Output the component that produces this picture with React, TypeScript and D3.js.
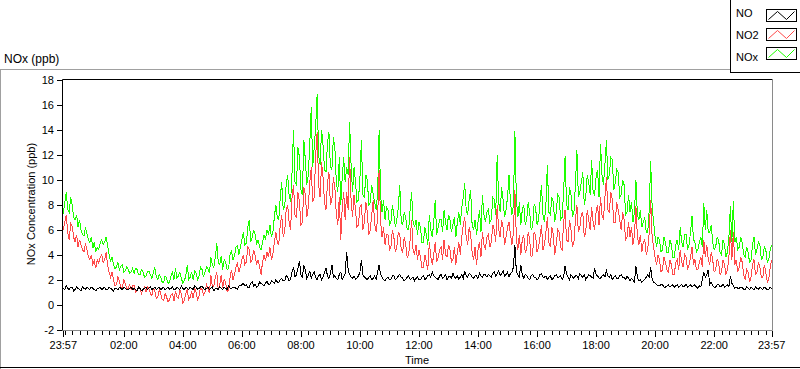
import React from "react";
import * as d3 from "d3";

// Samples. *_A: every 6 min from 23:57; *_B: the readings 3 min after each A sample.
const NO_A = [
  1.3,1.5,1.2,1.4,1.2,1.3,1.1,1.3,1.4,1.2,1.3,1.1,
  1.3,1.2,1.4,1.2,1.3,1.1,1.3,1.4,1.2,1.3,1.2,1.4,
  1.3,1.1,1.3,1.2,1.4,1.3,1.2,1.4,1.3,1.2,1.4,1.3,
  1.2,1.4,1.2,1.3,1.5,1.2,1.3,1.4,1.2,1.4,1.3,1.5,
  1.2,1.4,1.3,1.1,1.3,1.4,1.2,1.3,1.5,1.3,1.4,1.2,
  1.5,1.7,1.6,1.4,1.8,1.6,1.5,1.7,1.5,1.9,1.6,1.8,
  2.0,1.8,2.1,1.9,2.2,2.0,3.0,2.4,3.5,2.2,2.8,2.3,
  2.1,2.6,2.0,2.4,2.2,2.9,2.1,3.2,2.3,2.0,2.6,2.2,
  4.2,2.4,2.1,2.0,2.3,3.6,2.2,2.0,2.3,2.1,2.0,3.2,
  2.2,1.9,2.2,2.0,2.3,2.1,2.4,2.1,2.0,2.3,2.1,1.9,
  2.2,2.0,2.3,2.1,2.4,2.6,2.2,2.0,2.4,2.2,2.0,2.3,
  2.5,2.1,2.0,2.4,2.7,2.2,2.4,2.1,2.3,2.5,2.2,2.4,
  2.4,2.2,2.6,2.5,2.3,2.7,2.4,2.2,2.6,4.8,2.4,3.2,
  2.1,2.3,2.0,2.4,2.2,2.1,2.5,2.2,2.0,2.3,2.1,2.4,
  2.2,2.0,3.1,2.2,2.4,2.1,2.3,2.5,2.2,2.0,2.4,2.2,
  2.9,2.3,2.1,2.4,2.7,2.2,2.0,2.3,2.1,2.4,2.2,2.3,
  1.9,2.0,3.1,1.9,1.8,2.0,2.4,3.0,1.8,1.6,1.5,1.6,
  1.4,1.6,1.5,1.4,1.6,1.5,1.4,1.6,1.5,1.4,1.6,1.3,
  1.4,2.6,2.4,1.6,1.5,1.4,1.6,1.5,1.4,1.6,2.3,1.5,
  1.4,1.3,1.4,1.2,1.3,1.4,1.2,1.3,1.4,1.2,1.3,1.2,
  1.3,
];
const NO_B = [
  1.2,1.3,1.4,1.1,1.4,1.2,1.4,1.2,1.3,1.4,1.2,1.3,
  1.4,1.3,1.2,1.4,1.2,1.3,1.2,1.3,1.4,1.2,1.3,1.2,
  1.2,1.4,1.1,1.3,1.2,1.4,1.3,1.2,1.4,1.3,1.2,1.4,
  1.3,1.2,1.4,1.2,1.3,1.4,1.2,1.3,1.5,1.2,1.4,1.3,
  1.3,1.2,1.4,1.3,1.2,1.3,1.4,1.2,1.3,1.4,1.3,1.5,
  1.6,1.5,1.4,1.7,1.5,1.4,1.8,1.6,1.7,1.6,1.9,1.7,
  1.8,2.0,1.9,2.3,1.9,2.6,2.2,2.9,2.4,3.1,2.1,2.7,
  2.4,2.2,2.3,2.0,2.6,2.3,2.5,2.2,2.1,2.4,2.0,2.5,
  2.8,2.2,2.3,2.1,2.6,2.4,2.1,2.2,2.0,2.3,2.6,2.4,
  2.0,2.1,2.0,2.3,2.0,2.3,2.2,1.9,2.2,2.0,2.2,2.1,
  2.0,2.2,2.0,2.3,2.2,2.3,2.1,2.3,2.1,2.4,2.2,2.1,
  2.2,2.3,2.2,2.1,2.3,2.5,2.2,2.3,2.1,2.3,2.4,2.2,
  2.3,2.5,2.3,2.7,2.5,2.3,2.6,2.5,3.0,2.6,2.2,2.4,
  2.4,2.1,2.3,2.2,2.0,2.4,2.2,2.3,2.2,2.0,2.3,2.2,
  2.3,2.2,2.4,2.0,2.2,2.3,2.1,2.3,2.4,2.2,2.3,2.1,
  2.4,2.1,2.3,2.2,2.3,2.4,2.2,2.1,2.3,2.2,2.0,2.1,
  2.1,1.8,2.2,2.0,1.9,2.2,2.2,2.0,1.7,1.5,1.6,1.4,
  1.5,1.4,1.6,1.5,1.4,1.6,1.5,1.4,1.6,1.5,1.4,1.5,
  2.0,2.2,2.8,1.8,1.4,1.6,1.4,1.6,1.5,1.4,1.7,1.3,
  1.3,1.4,1.2,1.4,1.2,1.3,1.4,1.2,1.3,1.4,1.2,1.4,
];

const NO2_A = [
  6.0,7.2,5.2,6.3,5.0,4.6,4.8,4.2,4.4,3.6,3.2,2.9,
  3.3,4.0,3.6,3.2,2.2,2.0,1.6,1.9,1.4,1.7,1.3,1.2,
  1.5,1.1,1.3,1.2,1.0,1.3,0.7,1.1,0.6,0.9,0.3,0.6,
  0.4,0.9,1.1,0.5,0.8,0.3,1.2,0.6,0.5,1.0,0.7,1.2,
  1.0,1.3,2.4,1.5,2.6,1.6,1.3,1.8,1.2,2.8,2.4,3.3,
  3.0,4.0,3.4,4.4,3.6,3.9,3.6,2.4,4.0,4.2,4.6,4.0,
  5.8,4.8,7.2,5.8,8.0,6.0,9.6,7.0,8.2,6.6,8.8,7.8,
  11.0,8.6,13.8,8.6,10.2,7.6,10.6,8.4,9.4,6.4,5.2,9.0,
  9.0,11.8,7.0,7.6,6.4,8.0,6.6,7.4,6.0,8.4,5.8,10.8,
  5.4,4.8,5.6,4.6,5.4,4.6,5.6,4.2,4.8,4.0,6.8,4.0,
  3.6,3.8,3.0,3.4,5.0,3.2,5.0,3.8,4.6,5.2,3.8,4.4,
  3.6,3.2,5.0,5.4,7.0,4.8,5.6,3.6,3.2,5.0,5.8,4.4,
  5.6,5.0,6.0,8.0,5.4,6.2,5.4,6.6,4.8,9.2,4.4,4.0,
  5.6,4.4,5.2,4.0,5.6,4.6,6.4,4.8,7.0,4.6,5.6,4.8,
  5.8,4.4,7.6,5.0,6.0,5.0,8.0,6.2,7.4,5.8,6.8,7.8,
  6.0,8.0,8.6,6.8,10.2,7.4,8.4,6.6,7.6,6.0,6.8,5.4,
  5.4,4.8,7.9,4.8,4.2,5.2,4.4,8.4,4.6,3.2,3.6,2.8,
  3.4,2.6,3.2,2.4,3.6,4.4,3.0,3.8,3.2,4.6,3.6,2.8,
  3.8,5.2,4.8,3.2,3.6,2.8,3.4,2.6,3.2,2.8,6.0,5.8,
  3.6,3.0,3.4,2.0,2.6,2.2,3.6,2.6,3.0,2.2,2.6,2.0,
  3.6,
];
const NO2_B = [
  6.6,5.8,6.5,5.4,5.6,5.2,4.4,4.9,3.8,4.0,3.5,3.6,
  3.8,3.4,4.2,2.6,2.6,1.5,2.2,1.3,2.0,1.2,1.6,1.5,
  1.0,1.4,0.9,1.4,1.4,0.9,1.3,0.5,1.2,0.4,0.9,0.2,
  0.8,0.3,0.6,1.2,0.1,0.9,0.4,1.0,1.3,0.4,1.4,0.8,
  1.6,0.9,1.4,2.2,1.2,2.4,2.0,1.0,2.2,2.0,3.0,2.6,
  3.6,3.2,4.6,3.4,4.4,3.2,3.0,3.4,3.5,3.8,3.6,5.0,
  5.0,6.4,5.4,7.6,6.6,8.6,7.2,9.0,6.4,9.4,7.0,9.8,
  8.2,12.0,9.6,11.4,8.2,9.8,8.0,10.2,7.2,8.6,7.8,6.8,
  7.6,8.4,8.8,6.2,7.8,6.0,8.2,5.6,7.2,6.4,7.0,6.6,
  6.2,5.6,4.4,6.0,4.2,5.8,4.4,5.4,3.8,5.2,4.4,4.8,
  4.4,3.0,4.0,2.8,3.8,4.0,3.4,4.4,3.6,4.0,4.8,3.4,
  4.6,4.2,4.0,6.4,5.4,6.2,4.2,4.6,4.4,3.8,4.8,5.4,
  4.6,6.4,5.0,6.0,6.8,4.8,6.2,5.6,5.8,5.2,5.6,5.2,
  4.2,5.8,3.8,5.8,4.2,5.4,4.4,5.8,5.0,6.2,4.0,6.0,
  4.6,6.6,5.2,6.8,4.6,6.8,5.8,7.2,5.4,7.6,6.0,6.6,
  7.4,6.4,7.2,8.6,7.6,9.0,6.6,8.2,6.8,7.4,5.2,6.6,
  6.2,5.6,5.4,5.6,5.0,4.0,5.8,5.4,3.8,4.0,2.6,3.8,
  2.8,3.6,2.4,3.4,2.8,3.4,4.0,2.8,3.8,3.2,2.8,3.4,
  3.0,3.8,3.6,4.2,2.6,3.6,2.4,3.6,2.4,3.8,3.6,3.2,
  2.6,3.8,2.4,2.8,1.8,3.2,2.4,3.4,2.2,3.2,1.8,3.0,
];

const NOX_A = [
  7.3,9.0,7.4,8.0,6.8,6.2,6.0,5.5,5.7,5.0,4.5,4.2,
  4.4,5.2,5.0,4.8,3.5,3.2,3.0,2.8,3.2,2.7,2.8,2.6,
  2.5,2.8,2.4,2.6,2.3,2.7,2.1,3.0,2.0,2.2,1.8,2.1,
  1.8,2.6,2.9,2.3,2.1,1.9,3.2,2.2,2.0,2.5,2.3,2.8,
  2.6,2.9,3.8,3.0,4.9,3.2,2.8,3.4,2.9,4.3,3.9,4.7,
  4.6,5.8,4.9,6.8,5.4,5.6,5.2,4.4,5.6,6.0,6.4,5.8,
  8.0,6.8,9.8,7.8,10.4,8.2,14.0,9.6,11.8,8.8,11.6,10.4,
  15.8,12.6,16.9,11.2,12.8,10.6,13.8,10.8,12.6,9.0,8.0,11.8,
  11.0,14.6,9.0,9.8,8.4,13.2,8.6,10.0,8.2,8.8,7.6,14.0,
  7.4,6.8,7.6,6.6,7.2,6.8,9.6,6.4,7.0,6.0,9.0,6.2,
  5.6,6.2,5.0,5.6,7.2,5.4,8.4,6.2,6.8,7.6,6.0,6.8,
  6.4,5.4,7.4,7.8,9.7,7.2,9.2,6.0,5.6,7.6,8.8,6.6,
  7.6,6.8,8.4,12.0,7.4,8.4,7.6,10.4,7.2,13.9,7.0,6.4,
  8.0,6.8,7.4,6.2,7.8,6.8,9.6,6.6,11.2,7.2,8.2,7.4,
  8.6,7.0,11.9,7.6,8.8,7.4,12.4,9.0,10.6,8.6,9.8,11.6,
  8.8,10.8,12.9,9.6,13.2,10.4,11.6,9.8,10.6,8.8,9.6,7.4,
  7.4,6.6,10.0,6.8,6.2,7.0,5.8,11.5,6.6,4.6,5.2,4.4,
  5.0,4.2,4.8,3.8,5.2,6.2,4.6,5.6,4.8,7.1,5.0,4.4,
  5.4,8.1,7.6,5.8,5.0,4.6,5.2,4.0,4.8,4.2,7.9,8.3,
  5.4,4.6,5.0,3.8,4.2,3.6,5.4,4.4,4.8,3.8,4.4,3.6,
  4.8,
];
const NOX_B = [
  8.2,7.6,8.6,7.0,7.2,6.8,5.6,6.2,5.2,5.4,5.0,4.6,
  4.9,4.8,5.4,4.0,3.8,2.9,3.4,3.1,2.6,3.0,2.5,2.9,
  2.9,2.4,2.8,2.2,2.6,2.4,2.5,2.2,2.4,1.8,2.3,1.7,
  2.3,2.0,2.1,2.6,1.7,2.3,2.0,2.6,2.7,2.0,3.0,2.2,
  3.0,2.5,3.2,3.8,3.4,3.9,3.6,2.8,4.0,3.6,4.6,4.0,
  5.2,4.8,6.2,5.0,6.0,4.8,4.6,5.0,5.2,5.6,5.4,7.0,
  7.0,8.6,7.6,9.6,8.8,10.6,9.8,12.6,9.2,13.2,9.6,12.8,
  11.0,14.2,12.0,14.0,10.8,13.0,11.0,13.4,9.8,11.8,10.2,9.8,
  10.4,11.2,11.0,8.2,10.2,8.8,10.4,8.0,9.6,8.2,9.0,8.8,
  8.4,7.8,6.4,8.0,6.2,7.8,6.6,7.4,6.0,7.6,6.6,6.8,
  6.6,5.0,6.2,4.8,6.0,6.6,5.6,6.8,5.8,6.6,7.2,5.8,
  7.0,6.6,6.4,8.6,7.6,8.4,6.4,6.8,6.6,5.8,7.2,7.4,
  6.6,8.6,7.2,8.2,9.4,7.0,8.6,8.2,8.0,8.4,8.2,7.6,
  6.4,8.2,6.0,8.0,6.4,8.2,7.2,8.0,7.4,8.6,6.6,8.8,
  6.8,9.0,8.0,9.4,7.0,9.6,8.6,9.8,8.0,10.4,8.8,9.0,
  10.2,8.6,10.4,11.2,10.0,11.8,9.2,10.8,8.6,10.0,7.2,8.8,
  8.2,7.4,7.2,7.6,6.6,5.8,7.6,7.8,5.4,5.4,4.2,5.4,
  4.2,5.2,3.8,4.8,4.4,5.0,5.6,4.4,5.8,5.2,4.2,5.0,
  4.6,6.0,5.8,6.4,4.4,5.4,4.2,5.2,3.8,5.4,5.0,5.0,
  4.4,5.4,4.0,4.6,3.4,4.8,4.0,5.0,3.6,4.6,3.4,4.4,
];

const SERIES_NAMES = ["NO", "NO2", "NOx"];
const SERIES_COLORS = ["#000000", "#ff4a4a", "#1eff00"];
const Y_TICKS = [-2, 0, 2, 4, 6, 8, 10, 12, 14, 16, 18];
const START = new Date(2021, 0, 1, 23, 57);
const END = new Date(2021, 0, 2, 23, 57);
const STEP_MINUTES = 3;

const FONT = "Liberation Sans, Arial, sans-serif";

function merge(a: number[], b: number[]): number[] {
  const out: number[] = [];
  a.forEach((v, i) => {
    out.push(v);
    if (i < b.length) out.push(b[i]);
  });
  return out;
}

export default function App() {
  const W = 800;
  const H = 369;
  const left = 63.3;
  const right = 771.7;
  const top = 80;
  const bottom = 329.5;

  const x = d3.scaleTime().domain([START, END]).range([left, right]);
  const y = d3.scaleLinear().domain([-2, 18]).range([bottom, top]);

  const seriesData = [merge(NO_A, NO_B), merge(NO2_A, NO2_B), merge(NOX_A, NOX_B)];
  const times = seriesData[0].map((_, i) => d3.timeMinute.offset(START, i * STEP_MINUTES));

  const lineGen = d3
    .line<number>()
    .x((_, i) => x(times[i]))
    .y((d) => y(d));

  const fmt = d3.timeFormat("%H:%M");
  const majors = [START, ...d3.timeHour.every(2)!.range(START, END).filter((d) => d.getHours() !== 0), END];
  const minors = d3.timeMinute
    .every(15)!
    .range(START, END)
    .filter((d) => !(d.getMinutes() === 0 && d.getHours() % 2 === 0 && d.getHours() !== 0));

  const drawOrder = [2, 1, 0];

  return (
    <svg
      width={W}
      height={H}
      style={{ position: "absolute", left: 0, top: 0, background: "#fff" }}
      fontFamily={FONT}
    >
      <rect x={0} y={0} width={W} height={H} fill="#fff" />
      {/* outer panel frame */}
      <line x1={0} y1={69.5} x2={730} y2={69.5} stroke="#a0a0a0" />
      <line x1={0.5} y1={69.5} x2={0.5} y2={H} stroke="#a0a0a0" />
      <line x1={0} y1={367.5} x2={W} y2={367.5} stroke="#000" />

      {/* title */}
      <text x={4} y={63} fontSize={12} fill="#000">NOx (ppb)</text>

      {/* plot frame */}
      <line x1={62.5} y1={79.5} x2={772.5} y2={79.5} stroke="#000" />
      <line x1={772.5} y1={79.5} x2={772.5} y2={330.5} stroke="#8a8a8a" />
      <line x1={62.5} y1={330.5} x2={772.5} y2={330.5} stroke="#8a8a8a" />
      <line x1={62.5} y1={79.5} x2={62.5} y2={330.5} stroke="#000" />

      {/* y ticks */}
      {Y_TICKS.map((t) => (
        <g key={t}>
          <line x1={57} x2={62} y1={Math.round(y(t)) + 0.5} y2={Math.round(y(t)) + 0.5} stroke="#000" />
          <text x={54} y={y(t) + 4} fontSize={11} textAnchor="end" fill="#000">
            {t}
          </text>
        </g>
      ))}

      {/* x ticks */}
      {minors.map((d, i) => (
        <line
          key={"m" + i}
          x1={Math.round(x(d)) + 0.5}
          x2={Math.round(x(d)) + 0.5}
          y1={331}
          y2={335}
          stroke="#000"
        />
      ))}
      {majors.map((d, i) => (
        <g key={"M" + i}>
          <line
            x1={Math.round(x(d)) + 0.5}
            x2={Math.round(x(d)) + 0.5}
            y1={331}
            y2={337}
            stroke="#000"
          />
          <text x={x(d)} y={349} fontSize={11} textAnchor="middle" fill="#000">
            {fmt(d)}
          </text>
        </g>
      ))}

      {/* axis titles */}
      <text x={417} y={364} fontSize={11} textAnchor="middle" fill="#000">Time</text>
      <text transform={`translate(35,204) rotate(-90)`} fontSize={11} textAnchor="middle" fill="#000">
        NOx Concentration (ppb)
      </text>

      {/* series */}
      <g>
        {drawOrder.map((k) => (
          <path
            key={SERIES_NAMES[k]}
            d={lineGen(seriesData[k]) || ""}
            fill="none"
            stroke={SERIES_COLORS[k]}
            strokeWidth={1}
            shapeRendering="crispEdges"
          />
        ))}
      </g>

      {/* legend */}
      <rect x={730.5} y={-1} width={80} height={73.5} fill="#fff" stroke="#000" />
      {SERIES_NAMES.map((n, k) => {
        const by = [9.5, 28.5, 47.5][k];
        const ty = [17, 39, 61][k];
        const bx = 766.5;
        const bw = 30;
        const bh = 12;
        const pts: [number, number][] = [
          [bx + 2, by + bh - 2],
          [bx + 11, by + 2],
          [bx + 20, by + bh - 2],
          [bx + 28, by + 2],
        ];
        return (
          <g key={n}>
            <text x={736} y={ty} fontSize={11} fill="#000">{n}</text>
            <rect x={bx} y={by} width={bw} height={bh} fill="#fff" stroke="#000" />
            <path d={d3.line()(pts) || ""} fill="none" stroke={SERIES_COLORS[k]} strokeWidth={1} />
          </g>
        );
      })}
    </svg>
  );
}
